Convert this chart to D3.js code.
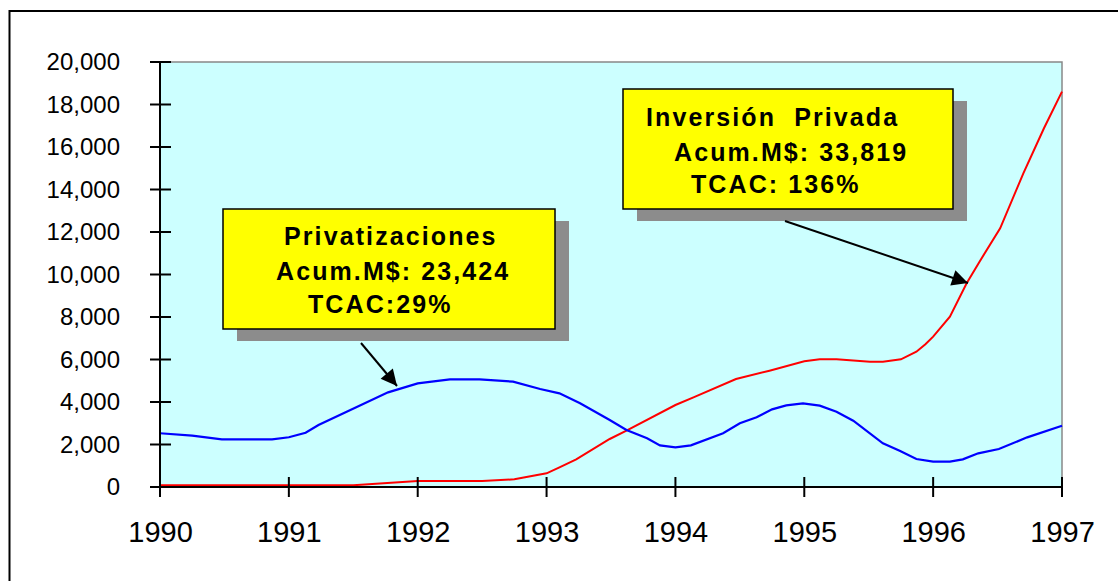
<!DOCTYPE html>
<html><head><meta charset="utf-8">
<script src="https://cdn.jsdelivr.net/npm/d3@7"></script>
<style>body{margin:0;background:#fff;}svg{display:block;font-family:"Liberation Sans",Arial,sans-serif;}</style>
</head><body><svg id="c" width="1118" height="581"></svg>
<script>
// Data (year fraction, value in M$)
const privYears = [1990.00,1990.25,1990.48,1990.87,1991.00,1991.13,1991.23,1991.49,1991.77,1992.00,1992.25,1992.48,1992.74,1992.95,1993.10,1993.26,1993.49,1993.62,1993.78,1993.88,1994.00,1994.12,1994.37,1994.50,1994.63,1994.75,1994.86,1994.99,1995.12,1995.25,1995.38,1995.61,1995.74,1995.87,1996.00,1996.13,1996.23,1996.35,1996.51,1996.73,1997.00];
const privValues = [2530,2420,2245,2245,2340,2555,2918,3655,4455,4878,5067,5067,4957,4612,4408,3937,3153,2682,2290,1960,1867,1960,2527,2996,3278,3655,3843,3937,3827,3545,3122,2055,1710,1318,1192,1192,1302,1584,1788,2337,2886];
const invYears = [1990.00,1991.50,1992.00,1992.50,1992.75,1993.00,1993.10,1993.23,1993.49,1993.62,1994.00,1994.14,1994.47,1994.73,1995.00,1995.12,1995.25,1995.51,1995.61,1995.75,1995.87,1995.94,1996.00,1996.13,1996.26,1996.36,1996.52,1996.70,1996.86,1997.00];
const invValues = [80,80,282,282,361,643,925,1302,2259,2650,3859,4220,5082,5475,5914,6008,6008,5898,5898,6008,6368,6714,7074,8016,9584,10604,12174,14762,16880,18604];
const xTicks = [1990,1991,1992,1993,1994,1995,1996,1997];
const yTicks = [0,2000,4000,6000,8000,10000,12000,14000,16000,18000,20000];
const boxPriv = ["Privatizaciones","Acum.M$: 23,424","TCAC:29%"];
const boxInv = ["Inversión  Privada","Acum.M$: 33,819","TCAC: 136%"];

const svg = d3.select("#c");
const L=160,R=1062,T=62,B=487;
const x = d3.scaleLinear().domain([1990,1997]).range([L,R]);
const y = d3.scaleLinear().domain([0,20000]).range([B,T]);

// outer border
svg.append("rect").attr("x",9.5).attr("y",11).attr("width",1130).attr("height",600)
  .attr("fill","none").attr("stroke","#000").attr("stroke-width",2);

// plot area
svg.append("rect").attr("x",L).attr("y",T).attr("width",R-L).attr("height",B-T)
  .attr("fill","#CCFFFF").attr("stroke","#888").attr("stroke-width",1.5);

// arrow marker
const defs = svg.append("defs");
defs.append("marker").attr("id","ah").attr("viewBox","0 0 10 10").attr("refX",10).attr("refY",5)
  .attr("markerWidth",20).attr("markerHeight",16).attr("markerUnits","userSpaceOnUse")
  .attr("orient","auto")
  .append("path").attr("d","M0,0 L10,5 L0,10 Z").attr("fill","#000");

// lines
const line = d3.line().x(d=>x(d[0])).y(d=>y(d[1]));
svg.append("path").datum(invYears.map((t,i)=>[t,invValues[i]]))
  .attr("d",line).attr("fill","none").attr("stroke","#FF0000").attr("stroke-width",2);
svg.append("path").datum(privYears.map((t,i)=>[t,privValues[i]]))
  .attr("d",line).attr("fill","none").attr("stroke","#0000FF").attr("stroke-width",2.2);

// axes
const yAxis = d3.axisLeft(y).tickValues(yTicks).tickSize(0).tickFormat(d3.format(","));
const gy = svg.append("g").attr("transform",`translate(${L},0)`).call(yAxis);
gy.select(".domain").remove();
gy.selectAll("text").attr("x",-40).attr("font-size",24).attr("fill","#000")
  .attr("font-family","Liberation Sans, Arial, sans-serif");
svg.append("line").attr("x1",L).attr("x2",L).attr("y1",T).attr("y2",B).attr("stroke","#000").attr("stroke-width",2);
svg.selectAll(".ytk").data(yTicks).enter().append("line")
  .attr("x1",L-10).attr("x2",L+11).attr("y1",d=>y(d)).attr("y2",d=>y(d)).attr("stroke","#000").attr("stroke-width",2);

const xAxis = d3.axisBottom(x).tickValues(xTicks).tickSize(0).tickFormat(d3.format("d"));
const gx = svg.append("g").attr("transform",`translate(0,${B})`).call(xAxis);
gx.select(".domain").remove();
gx.selectAll("text").attr("y",55).attr("dy",0).attr("font-size",29).attr("fill","#000")
  .attr("font-family","Liberation Sans, Arial, sans-serif");
svg.append("line").attr("x1",L).attr("x2",R).attr("y1",B).attr("y2",B).attr("stroke","#000").attr("stroke-width",2);
svg.selectAll(".xtk").data(xTicks).enter().append("line")
  .attr("x1",d=>x(d)).attr("x2",d=>x(d)).attr("y1",B-10).attr("y2",B+10).attr("stroke","#000").attr("stroke-width",2);

// annotation boxes
function box(bx,by,bw,bh,lines,xs,ys){
  svg.append("rect").attr("x",bx+14).attr("y",by+12).attr("width",bw).attr("height",bh).attr("fill","#8C8C8C");
  svg.append("rect").attr("x",bx).attr("y",by).attr("width",bw).attr("height",bh)
    .attr("fill","#FFFF00").attr("stroke","#000").attr("stroke-width",1.5);
  lines.forEach((t,i)=>{
    svg.append("text").attr("x",xs[i]).attr("y",ys[i]).text(t)
      .attr("font-size",25).attr("font-weight","bold").attr("fill","#000")
      .attr("letter-spacing",2.1)
      .attr("xml:space","preserve").style("white-space","pre");
  });
}
box(223,209,332,120,boxPriv,[284,276,308],[245,280,313]);
box(623,89,330,120,boxInv,[646,674,691],[126,161,193]);

// arrows
svg.append("line").attr("x1",361).attr("y1",343).attr("x2",397).attr("y2",386)
  .attr("stroke","#000").attr("stroke-width",2).attr("marker-end","url(#ah)");
svg.append("line").attr("x1",785).attr("y1",221).attr("x2",968).attr("y2",283)
  .attr("stroke","#000").attr("stroke-width",2).attr("marker-end","url(#ah)");
</script></body></html>
